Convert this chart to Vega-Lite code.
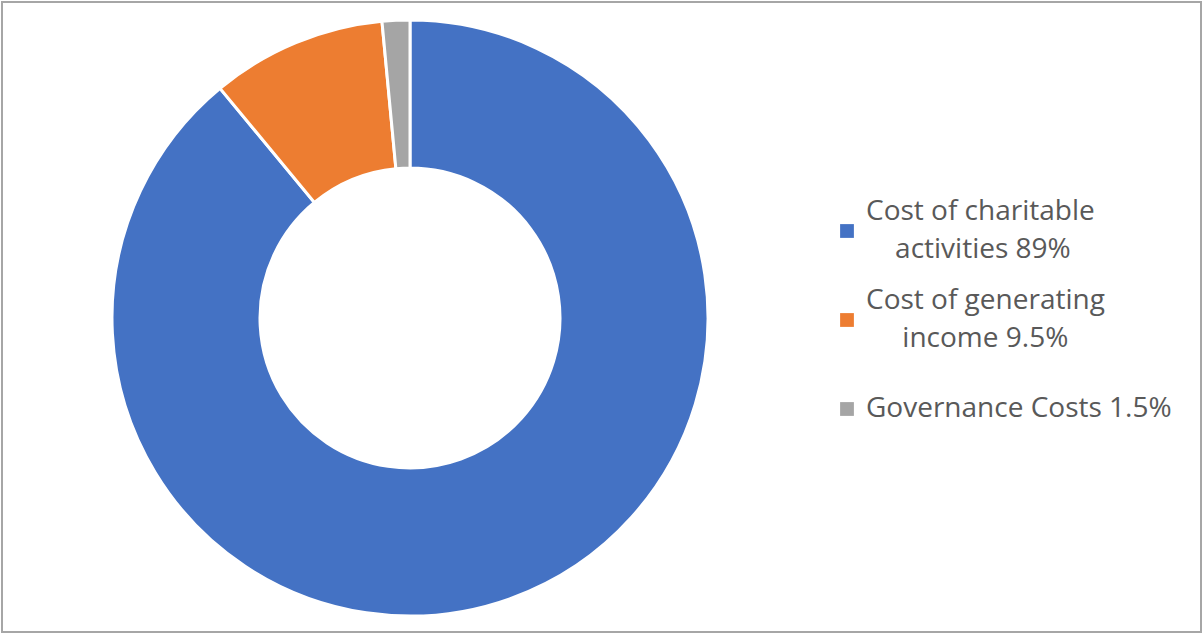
{
  "$schema": "https://vega.github.io/schema/vega-lite/v6.json",
  "width": 1199,
  "height": 630,
  "padding": 2,
  "autosize": {"type": "none"},
  "background": "white",
  "view": {"stroke": "#a6a6a6", "strokeWidth": 2},
  "config": {
    "style": {"guide-label": {"lineHeight": 19, "dy": -19}}
  },
  "data": {
    "values": [
      {"category": "Cost of charitable|activities 89%", "value": 89, "order": 1},
      {"category": "Cost of generating|income 9.5%", "value": 9.5, "order": 2},
      {"category": "Governance Costs 1.5%", "value": 1.5, "order": 3}
    ]
  },
  "mark": {
    "type": "arc",
    "x": 408,
    "y": 316,
    "outerRadius": 298,
    "innerRadius": 150,
    "stroke": "white",
    "strokeWidth": 3
  },
  "encoding": {
    "theta": {"field": "value", "type": "quantitative", "stack": true},
    "order": {"field": "order", "type": "quantitative"},
    "color": {
      "field": "category",
      "type": "nominal",
      "sort": ["Cost of charitable|activities 89%", "Cost of generating|income 9.5%", "Governance Costs 1.5%"],
      "scale": {"range": ["#4472C4", "#ED7D31", "#A5A5A5"]},
      "legend": {
        "orient": "none",
        "legendX": 831,
        "legendY": 215,
        "title": null,
        "symbolType": "square",
        "symbolSize": 190,
        "symbolStrokeWidth": 0,
        "labelFont": "Open Sans",
        "labelFontSize": 28,
        "labelColor": "#595959",
        "labelOffset": 5,
        "labelLimit": 400,
        "rowPadding": 23,
        "labelExpr": "indexof(datum.label, 'charitable') >= 0 ? ['Cost of charitable', '\u200b', '\u200b\u00a0\u00a0\u00a0\u00a0activities 89%'] : indexof(datum.label, 'generating') >= 0 ? ['Cost of generating', '\u200b', '\u200b\u00a0\u00a0\u00a0\u00a0\u00a0income 9.5%'] : ['\u200b', datum.label]"
      }
    }
  }
}
